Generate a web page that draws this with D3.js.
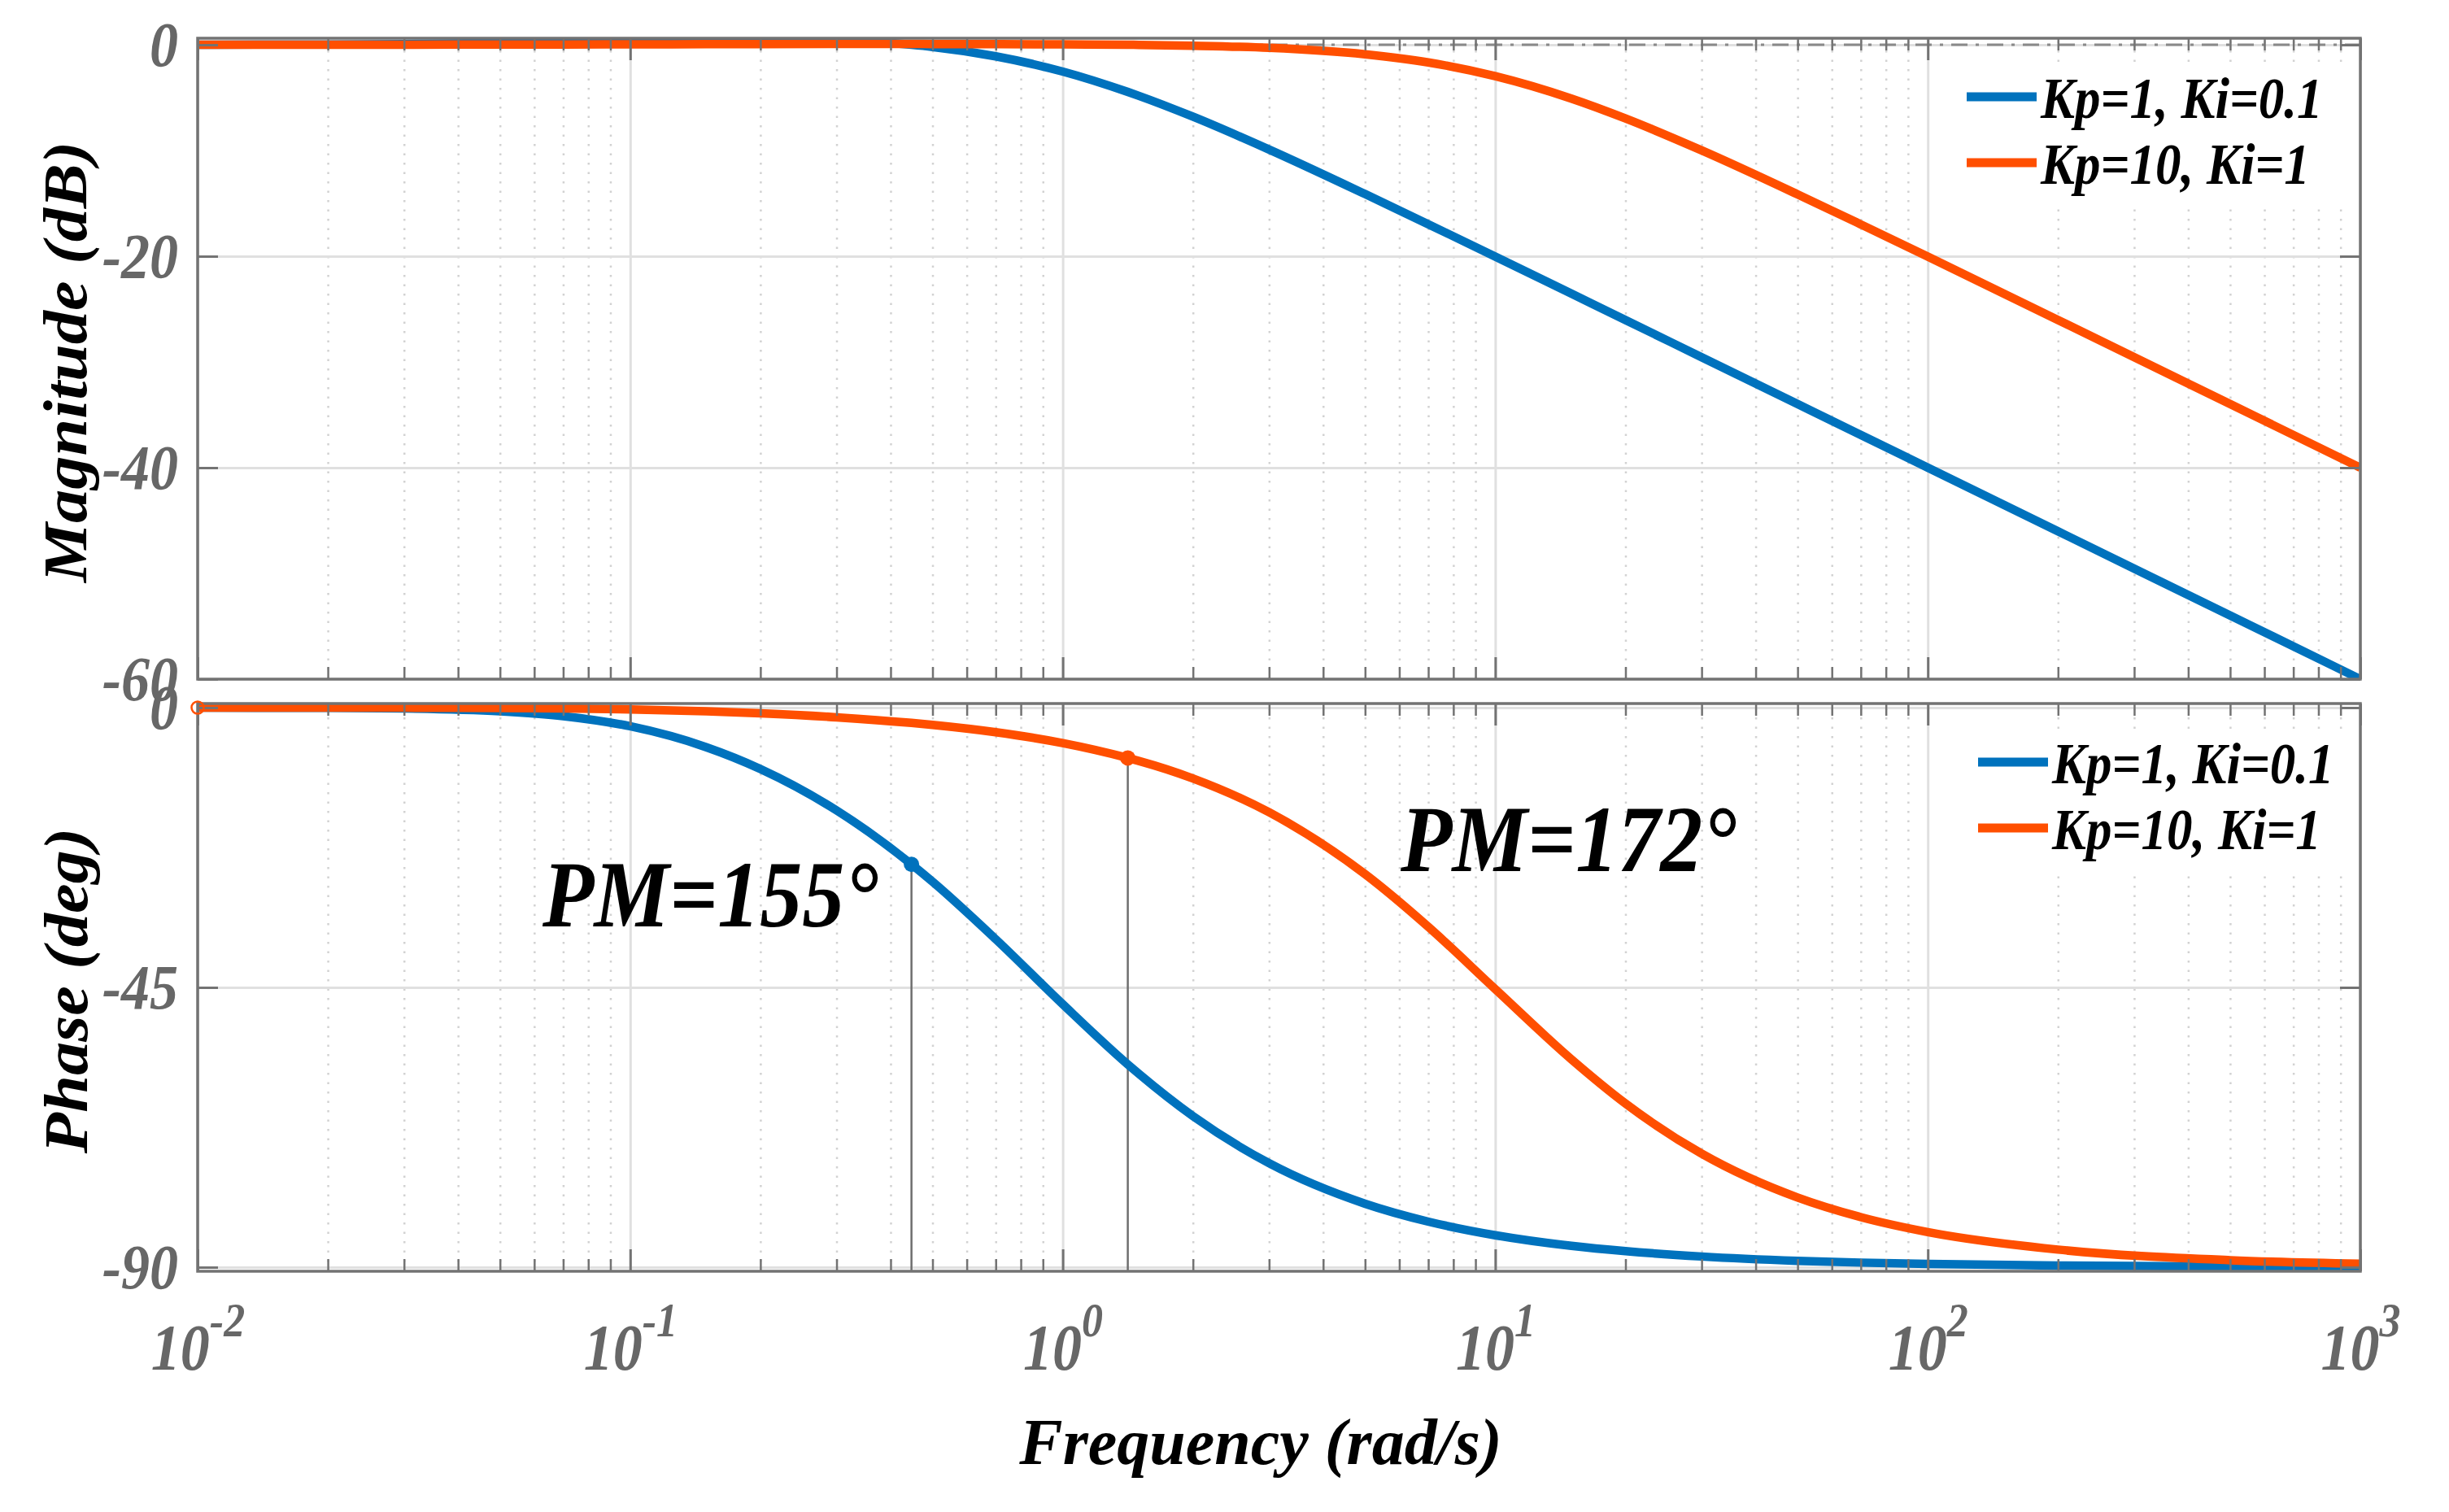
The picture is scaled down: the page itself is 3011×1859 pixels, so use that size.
<!DOCTYPE html>
<html>
<head>
<meta charset="utf-8">
<script src="https://cdn.jsdelivr.net/npm/d3@7"></script>
<style>
  html, body { margin: 0; padding: 0; background: #fff; }
  svg { display: block; }
  text { font-family: "Liberation Serif", "Times New Roman", serif; font-style: italic; font-weight: bold; }
</style>
</head>
<body>
<svg id="chart"></svg>
<script>
// Values (rad/s, dB, deg)
var freq        = [0.01, 0.02, 0.03, 0.05, 0.07, 0.1, 0.15, 0.2, 0.3, 0.447, 0.5, 0.7, 1, 1.414, 1.5, 2, 3, 5, 7, 10, 15, 20, 30, 50, 70, 100, 200, 500, 1000];
var magBlue     = [0.01, 0.03, 0.07, 0.18, 0.29, 0.43, 0.57, 0.6, 0.45, 0.0, -0.2, -1.09, -2.53, -4.46, -4.83, -6.8, -9.91, -14.12, -16.97, -20.03, -23.54, -26.03, -29.55, -33.98, -36.9, -40.0, -46.02, -53.98, -60.0];
var magOrange   = [0.0, 0.0, 0.01, 0.02, 0.03, 0.04, 0.06, 0.07, 0.08, 0.08, 0.07, 0.06, 0.04, 0.0, -0.01, -0.09, -0.29, -0.9, -1.67, -2.97, -5.09, -6.97, -9.99, -14.15, -16.99, -20.04, -26.03, -33.98, -40.0];
var phaseBlue   = [-0.01, -0.05, -0.14, -0.59, -1.37, -3.01, -6.37, -9.87, -16.53, -25.2, -28.0, -37.25, -47.7, -57.39, -58.91, -65.71, -73.28, -79.79, -82.67, -84.86, -86.57, -87.42, -88.28, -88.97, -89.26, -89.48, -89.74, -89.9, -89.94];
var phaseOrange = [0.0, -0.01, -0.02, -0.06, -0.13, -0.29, -0.6, -0.92, -1.56, -2.46, -2.78, -3.96, -5.71, -8.1, -8.58, -11.39, -16.84, -26.79, -35.26, -45.28, -56.57, -63.67, -71.74, -78.8, -81.95, -84.35, -87.17, -88.87, -89.43];

var seriesNames  = ['Kp=1, Ki=0.1', 'Kp=10, Ki=1'];
var seriesColors = ['#0072bd', '#ff4f00'];

var xTicks     = [0.01, 0.1, 1, 10, 100, 1000];
var xExponents = ['-2', '-1', '0', '1', '2', '3'];
var magTicks   = [0, -20, -40, -60];
var phaseTicks = [0, -45, -90];

// phase margin points
var pmFreq  = [0.447, 1.414];
var pmPhase = [-25.2, -8.1];
var pmText  = ['PM=155\u00B0', 'PM=172\u00B0'];

// 0. svg
var svgWidth = 3011;
var svgHeight = 1859;
var svg = d3.select('#chart')
    .attr('width', svgWidth)
    .attr('height', svgHeight);
svg.append('rect').attr('width', svgWidth).attr('height', svgHeight).attr('fill', '#fff');

var plotLeft = 243, plotRight = 2902;
var axisColor = '#737373';
var labelGray = '#676767';
var tall = 1.13;   // the figure's text is a little stretched in height

var x = d3.scaleLog().domain([0.01, 1000]).range([plotLeft, plotRight]);
var yMag = d3.scaleLinear().domain([-60, 0.62]).range([835, 47]);
var yPhase = d3.scaleLinear().domain([-90.65, 0.65]).range([1563, 865]);

var minorTicks = [];
xTicks.slice(0, -1).forEach(function(t) {
    for (var k = 2; k < 10; k++) minorTicks.push(+(t * k).toPrecision(3));
});

function cleanAxis(sel) {
    sel.attr('font-size', null).attr('font-family', null);
    sel.select('.domain').remove();
}

// text placed at (tx, ty) and stretched vertically
function tallText(parent, tx, ty, size, stretch) {
    return parent.append('text')
        .attr('transform', 'translate(' + tx + ',' + ty + ') scale(1,' + stretch + ')')
        .attr('fill', '#000')
        .style('font-size', size + 'px');
}

// 1. one panel of the bode plot
function drawPanel(cfg) {
    var y = cfg.y;
    var top = y.range()[1], bottom = y.range()[0];
    var h = bottom - top, w = plotRight - plotLeft;
    var g = svg.append('g');

    // 1.1 grid
    g.append('g').attr('transform', 'translate(0,' + bottom + ')')
        .call(d3.axisBottom(x).tickValues(minorTicks).tickSize(-h).tickFormat(''))
        .call(cleanAxis)
        .selectAll('line').attr('stroke', '#d2d2d2').attr('stroke-width', 2.5).attr('stroke-dasharray', '2.5,9');
    g.append('g').attr('transform', 'translate(0,' + bottom + ')')
        .call(d3.axisBottom(x).tickValues(xTicks).tickSize(-h).tickFormat(''))
        .call(cleanAxis)
        .selectAll('line').attr('stroke', '#e0e0e0').attr('stroke-width', 3);
    g.append('g').attr('transform', 'translate(' + plotLeft + ',0)')
        .call(d3.axisLeft(y).tickValues(cfg.ticks).tickSize(-w).tickFormat(''))
        .call(cleanAxis)
        .selectAll('line').attr('stroke', '#e0e0e0').attr('stroke-width', 3);

    // 1.2 legend background hides the grid
    g.append('rect')
        .attr('x', cfg.legendX - 15).attr('y', top + 33)
        .attr('width', plotRight - cfg.legendX + 13).attr('height', cfg.legendY - top + 100)
        .attr('fill', '#fff');

    if (cfg.before) cfg.before(g, y);

    // 1.3 curves
    var clipId = 'clip' + cfg.id;
    svg.append('clipPath').attr('id', clipId)
        .append('rect').attr('x', plotLeft).attr('y', top - (cfg.clipPad || 0))
        .attr('width', w).attr('height', h + (cfg.clipPad || 0));
    var line = d3.line()
        .x(function(d) { return x(d[0]); })
        .y(function(d) { return y(d[1]); })
        .curve(d3.curveMonotoneX);
    cfg.series.forEach(function(vals, i) {
        g.append('path')
            .datum(freq.map(function(f, j) { return [f, vals[j]]; }))
            .attr('clip-path', 'url(#' + clipId + ')')
            .attr('d', line)
            .attr('fill', 'none')
            .attr('stroke', seriesColors[i])
            .attr('stroke-width', 10.5)
            .attr('stroke-linejoin', 'round');
    });

    // 1.4 box and inward ticks
    g.append('rect').attr('x', plotLeft).attr('y', top).attr('width', w).attr('height', h)
        .attr('fill', 'none').attr('stroke', axisColor).attr('stroke-width', 3.5);

    [[d3.axisBottom, bottom], [d3.axisTop, top]].forEach(function(a) {
        g.append('g').attr('transform', 'translate(0,' + a[1] + ')')
            .call(a[0](x).tickValues(minorTicks).tickSize(-15).tickFormat(''))
            .call(cleanAxis)
            .selectAll('line').attr('stroke', axisColor).attr('stroke-width', 2.5);
        g.append('g').attr('transform', 'translate(0,' + a[1] + ')')
            .call(a[0](x).tickValues(xTicks).tickSize(-27).tickFormat(''))
            .call(cleanAxis)
            .selectAll('line').attr('stroke', axisColor).attr('stroke-width', 3);
    });
    g.append('g').attr('transform', 'translate(' + plotRight + ',0)')
        .call(d3.axisRight(y).tickValues(cfg.ticks).tickSize(-25).tickFormat(''))
        .call(cleanAxis)
        .selectAll('line').attr('stroke', axisColor).attr('stroke-width', 3);

    var yAxis = g.append('g').attr('transform', 'translate(' + plotLeft + ',0)')
        .call(d3.axisLeft(y).tickValues(cfg.ticks).tickSize(-25).tickPadding(24)
            .tickFormat(function(d) { return String(d); }))
        .call(cleanAxis);
    yAxis.selectAll('line').attr('stroke', axisColor).attr('stroke-width', 3);
    yAxis.selectAll('text')
        .attr('fill', labelGray)
        .attr('transform', 'scale(1,' + tall + ')')
        .style('font-size', '70px');

    // 1.5 y label
    g.append('text')
        .attr('transform', 'translate(' + cfg.labelX + ',' + cfg.labelY + ') scale(1,1.07) rotate(-90)')
        .attr('text-anchor', 'middle')
        .attr('fill', '#000')
        .style('font-size', '77px')
        .text(cfg.label);

    // 1.6 legend
    seriesNames.forEach(function(name, i) {
        var ly = cfg.legendY + i * 81;
        g.append('line')
            .attr('x1', cfg.legendX).attr('x2', cfg.legendX + 86)
            .attr('y1', ly).attr('y2', ly)
            .attr('stroke', seriesColors[i]).attr('stroke-width', 11);
        tallText(g, cfg.legendX + 91, ly + 26, 63, 1.15).text(name);
    });

    return g;
}

// 2. magnitude
drawPanel({
    id: 'mag', y: yMag, ticks: magTicks,
    series: [magBlue, magOrange],
    label: 'Magnitude (dB)', labelX: 106, labelY: 445,
    legendX: 2418, legendY: 119,
    before: function(g, y) {
        g.append('line')
            .attr('x1', plotLeft).attr('x2', plotRight)
            .attr('y1', y(0)).attr('y2', y(0))
            .attr('stroke', '#8a8a8a').attr('stroke-width', 3)
            .attr('stroke-dasharray', '20,10,4,10');
    }
});

// 3. phase
var phasePanel = drawPanel({
    id: 'phase', y: yPhase, ticks: phaseTicks,
    series: [phaseBlue, phaseOrange],
    label: 'Phase (deg)', labelX: 107, labelY: 1218,
    legendX: 2432, legendY: 937, clipPad: 8,
    before: function(g, y) {
        // drop lines from the crossover points
        pmFreq.forEach(function(f, i) {
            g.append('line')
                .attr('x1', x(f)).attr('x2', x(f))
                .attr('y1', y(pmPhase[i])).attr('y2', y.range()[0])
                .attr('stroke', '#6e6e6e').attr('stroke-width', 2.5);
        });
    }
});

pmFreq.forEach(function(f, i) {
    phasePanel.append('circle')
        .attr('cx', x(f)).attr('cy', yPhase(pmPhase[i]))
        .attr('r', 9.5)
        .attr('fill', seriesColors[i]);
});

phasePanel.append('circle')
    .attr('cx', x(freq[0])).attr('cy', yPhase(phaseOrange[0]))
    .attr('r', 7.5)
    .attr('fill', 'none')
    .attr('stroke', seriesColors[1])
    .attr('stroke-width', 2.5);

// PM annotations
tallText(phasePanel, 667, 1139, 104, 1.12).text(pmText[0]);
tallText(phasePanel, 1722, 1071, 104, 1.12).text(pmText[1]);

// 4. x tick labels 10^n
var xLabels = svg.append('g').attr('transform', 'translate(0,' + yPhase.range()[0] + ')')
    .call(d3.axisBottom(x).tickValues(xTicks).tickSize(0))
    .call(cleanAxis);
xLabels.selectAll('.tick text').each(function(d, i) {
    var t = d3.select(this).text(null)
        .attr('y', null).attr('dy', null)
        .attr('transform', 'translate(0,121) scale(1,' + tall + ')')
        .attr('fill', labelGray)
        .style('font-size', '72px');
    t.append('tspan').text('10');
    t.append('tspan').attr('dy', -36).attr('font-size', 52).text(xExponents[i]);
});

svg.append('text')
    .attr('x', 1550).attr('y', 1800)
    .attr('text-anchor', 'middle')
    .attr('fill', '#000')
    .style('font-size', '80px')
    .text('Frequency (rad/s)');
</script>
</body>
</html>
